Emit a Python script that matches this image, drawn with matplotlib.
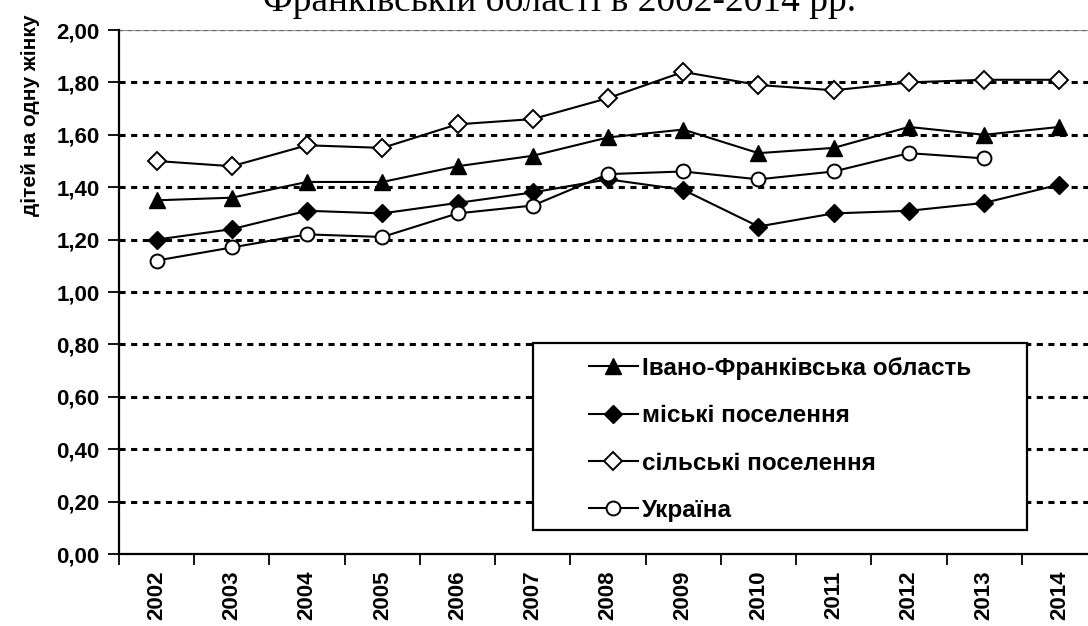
import numpy as np
import matplotlib
matplotlib.use("Agg")
import matplotlib.pyplot as plt
from matplotlib.patches import Rectangle

years = ['2002', '2003', '2004', '2005', '2006', '2007', '2008',
         '2009', '2010', '2011', '2012', '2013', '2014']
ivano = [1.35, 1.36, 1.42, 1.42, 1.48, 1.52, 1.59, 1.62, 1.53, 1.55, 1.63, 1.60, 1.63]
urban = [1.20, 1.24, 1.31, 1.30, 1.34, 1.38, 1.43, 1.39, 1.25, 1.30, 1.31, 1.34, 1.41]
rural = [1.50, 1.48, 1.56, 1.55, 1.64, 1.66, 1.74, 1.84, 1.79, 1.77, 1.80, 1.81, 1.81]
ukraine = [1.12, 1.17, 1.22, 1.21, 1.30, 1.33, 1.45, 1.46, 1.43, 1.46, 1.53, 1.51, np.nan]
labels = ['Івано-Франківська область', 'міські поселення',
          'сільські поселення', 'Україна']
yticks = [0.0, 0.2, 0.4, 0.6, 0.8, 1.0, 1.2, 1.4, 1.6, 1.8, 2.0]

plt.rcParams['font.family'] = ['Liberation Sans', 'DejaVu Sans']

fig = plt.figure(figsize=(10.88, 6.26), dpi=100)
ax = fig.add_axes([119 / 1088, 1 - 554 / 626, 978 / 1088, 524 / 626])

x = np.arange(len(years))
ax.plot(x, ivano, '-', color='black', lw=1.5, marker='^', ms=12,
        mfc='black', mec='black', label=labels[0], zorder=5)
ax.plot(x, urban, '-', color='black', lw=1.5, marker='D', ms=9,
        mfc='black', mec='black', label=labels[1], zorder=5)
ax.plot(x, rural, '-', color='black', lw=1.5, marker='D', ms=9,
        mfc='white', mec='black', mew=1.4, label=labels[2], zorder=5)
ax.plot(x, ukraine, '-', color='black', lw=1.5, marker='o', ms=10,
        mfc='white', mec='black', mew=1.4, label=labels[3], zorder=5)

ax.set_xlim(-0.5, len(years) - 0.5)
ax.set_ylim(0, 2.0)

# gridlines
for v in yticks[1:-1]:
    ax.axhline(v, color='black', lw=2.2, dashes=(2, 1.8), zorder=1)
ax.axhline(2.0, color='#999999', lw=1.6, zorder=1)
ax.axhline(2.0, color='#666666', lw=1.6, dashes=(2, 1.8), zorder=1)

ax.set_yticks(yticks)
ax.set_yticklabels([f'{v:.2f}'.replace('.', ',') for v in yticks],
                   fontsize=16, fontweight='bold')
ax.tick_params(axis='y', direction='out', length=8, width=1.3, pad=6)

ax.set_xticks(x)
ax.set_xticklabels(years, rotation=90, fontsize=16, fontweight='bold')
ax.tick_params(axis='x', which='major', length=0, pad=12)
ax.set_xticks(np.arange(len(years)) - 0.5, minor=True)
ax.tick_params(axis='x', which='minor', direction='out', length=8, width=1.3)

for s in ['top', 'right']:
    ax.spines[s].set_visible(False)
ax.spines['left'].set_linewidth(1.6)
ax.spines['bottom'].set_linewidth(1.6)

# legend box
ax.add_patch(Rectangle((414 / 978, 24 / 524), 494 / 978, 187 / 524,
                       transform=ax.transAxes, facecolor='white',
                       edgecolor='black', lw=1.6, zorder=6))
leg = ax.legend(loc='upper left', bbox_to_anchor=(470 / 978, 197 / 524),
                frameon=False, handlelength=2.0,
                handletextpad=0.2, labelspacing=1.0, borderpad=0,
                borderaxespad=0, prop={'weight': 'bold', 'size': 17.5})
leg.set_zorder(7)

fig.text(31 / 1088, 1 - 115 / 626, 'дітей на одну жінку', rotation=90,
         ha='center', va='center', fontsize=15, fontweight='bold')
fig.text(560 / 1088, 1 - 11 / 626, 'Франківській області в 2002-2014 рр.',
         ha='center', va='baseline', fontsize=27,
         family=['Liberation Serif', 'DejaVu Serif'])

fig.savefig('out.png', dpi=100)
